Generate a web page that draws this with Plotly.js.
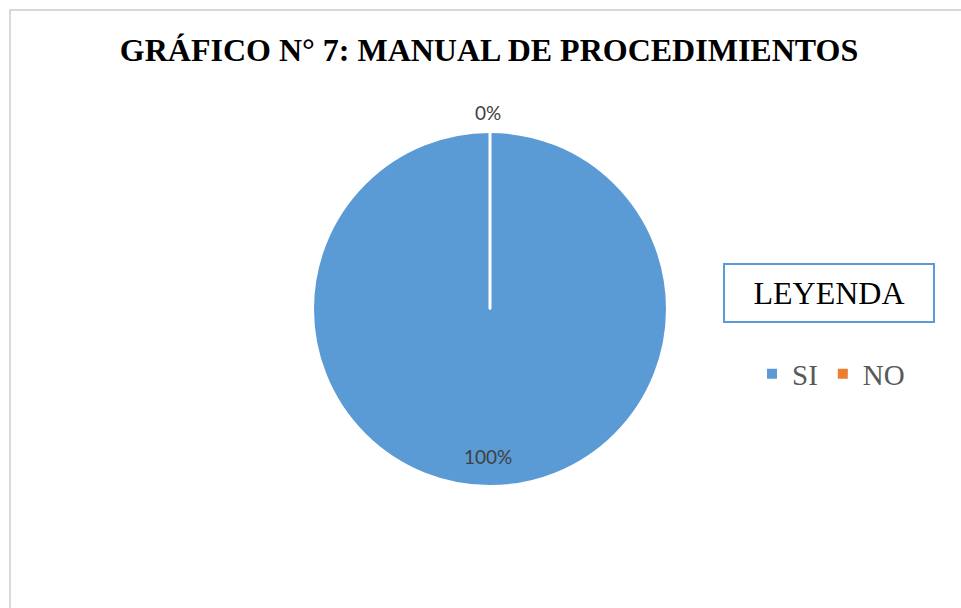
<!DOCTYPE html>
<html>
<head>
<meta charset="utf-8">
<script src="https://cdn.plot.ly/plotly-3.0.1.min.js"></script>
<style>html,body{margin:0;padding:0;background:#fff;}#chart{width:961px;height:608px;}</style>
</head>
<body>
<div id="chart"></div>
<script>
const categories = ["SI", "NO"];
const values = [100, 0];
const colors = ["#5B9BD5", "#ED7D31"];
const titleText = "GRÁFICO N° 7: MANUAL DE PROCEDIMIENTOS";
const legendTitle = "LEYENDA";

const W = 961, H = 608;
const cx = 490, cy = 309, r = 177;
const dom = {x: [(cx - r) / W, (cx + r) / W], y: [(H - cy - r) / H, (H - cy + r) / H]};
const total = values.reduce((a, b) => a + b, 0);
const pct = values.map(v => Math.round(v / total * 100) + "%");

const trace = {
  type: "pie",
  labels: categories,
  values: values,
  sort: false,
  direction: "clockwise",
  rotation: 0,
  marker: {colors: colors, line: {color: "#ffffff", width: 2}},
  textinfo: "none",
  hoverinfo: "label+percent",
  domain: dom,
  showlegend: true
};

const labelFont = {family: "Lato, 'Open Sans', sans-serif", size: 19, color: "#404040"};
const annotations = [
  {text: pct[1], xref: "paper", yref: "paper", x: 488 / W, y: 1 - 112 / H, xanchor: "center", yanchor: "middle",
   showarrow: false, font: labelFont},
  {text: pct[0], xref: "paper", yref: "paper", x: 488 / W, y: 1 - 456 / H, xanchor: "center", yanchor: "middle",
   showarrow: false, font: labelFont},
  {text: legendTitle, xref: "paper", yref: "paper", x: 829 / W, y: 1 - 293 / H, xanchor: "center", yanchor: "middle",
   showarrow: false, width: 206, height: 54, bordercolor: "#5B9BD5", borderwidth: 2, bgcolor: "#ffffff",
   font: {family: "'Liberation Serif', 'Times New Roman', serif", size: 32, color: "#000000"}}
];

const layout = {
  width: W, height: H,
  margin: {l: 0, r: 0, t: 0, b: 0},
  paper_bgcolor: "#ffffff",
  title: {text: "<b>" + titleText + "</b>", x: 489 / W, xanchor: "center", y: 1 - 50 / H, yanchor: "middle",
    font: {family: "'Liberation Serif', 'Times New Roman', serif", size: 32, color: "#000000"}},
  legend: {orientation: "h", x: 752 / W, xanchor: "left", y: 1 - 374 / H, yanchor: "middle",
    font: {family: "'Liberation Serif', 'Times New Roman', serif", size: 29, color: "#595959"},
    itemclick: false},
  annotations: annotations,
  shapes: [
    {type: "rect", xref: "paper", yref: "paper", x0: 10 / W, x1: 1.05, y0: -0.05, y1: 1 - 10 / H,
     line: {color: "#d9d9d9", width: 2}, layer: "below"},
    {type: "line", xref: "paper", yref: "paper", x0: cx / W, x1: cx / W, y0: 1 - cy / H, y1: 1 - (cy - r) / H,
     line: {color: "#ffffff", width: 3}, layer: "above"}
  ]
};

Plotly.newPlot("chart", [trace], layout, {displayModeBar: false, staticPlot: true});
</script>
</body>
</html>
